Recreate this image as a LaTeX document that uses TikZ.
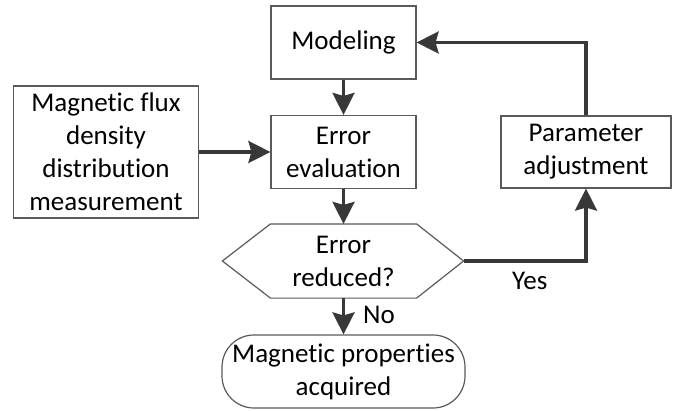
\documentclass[tikz,border=0pt]{standalone}
\usepackage{fontspec}
\setmainfont{Carlito}[Ligatures=NoCommon]
\usetikzlibrary{arrows.meta,calc}
\definecolor{edge}{HTML}{5A5A5A}
\definecolor{flow}{HTML}{383838}
\tikzset{
  box/.style={draw=edge, line width=0.6pt, fill=white, align=center, inner sep=0pt,
    font=\fontsize{13.5}{16.5}\selectfont},
  flowline/.style={draw=flow, line width=1.6pt,
    -{Stealth[length=11pt, width=11pt, inset=1.5pt]}},
  lbl/.style={font=\fontsize{13.5}{16.5}\selectfont, inner sep=1pt}
}
\begin{document}
\begin{tikzpicture}[x=0.5pt, y=-0.5pt]
  \useasboundingbox (0,0) rectangle (678,411);

  % process boxes
  \node[box, minimum width=72.5pt, minimum height=36.5pt] (model) at (343.5,42.5) {Modeling};
  \node[box, minimum width=72.5pt, minimum height=36.5pt] (err) at (343.5,152) {Error\\evaluation};
  \node[box, minimum width=92.5pt, minimum height=66pt] (flux) at (106,152)
    {Magnetic flux\\density\\distribution\\measurement};
  \node[box, minimum width=85pt, minimum height=36pt] (param) at (586,152) {Parameter\\adjustment};

  % decision hexagon
  \node[box, draw=none, fill=none, minimum width=72.5pt, minimum height=36.5pt] (hex) at (343.5,261)
    {Error\\reduced?};
  \coordinate (hexR) at ($(hex.east)+(47,0)$);
  \coordinate (hexL) at ($(hex.west)+(-48,0)$);
  \draw[edge, line width=0.6pt] (hex.north west) -- (hex.north east) -- (hexR)
    -- (hex.south east) -- (hex.south west) -- (hexL) -- cycle;

  % terminal
  \node[box, rounded corners=16pt, minimum width=121.5pt, minimum height=36.5pt] (done) at (343.5,371.5)
    {Magnetic properties\\acquired};

  % connectors
  \draw[flowline] (model.south) -- (err.north);
  \draw[flowline] (flux.east) -- (err.west);
  \draw[flowline] (err.south) -- (hex.north);
  \draw[flowline] (hex.south) -- node[lbl, right, xshift=8pt, yshift=0.5pt] {No} (done.north);
  \draw[flowline] (hexR) -| node[lbl, pos=0.27, below, yshift=-4pt] {Yes} (param.south);
  \draw[flowline] (param.north) |- (model.east);
\end{tikzpicture}
\end{document}
